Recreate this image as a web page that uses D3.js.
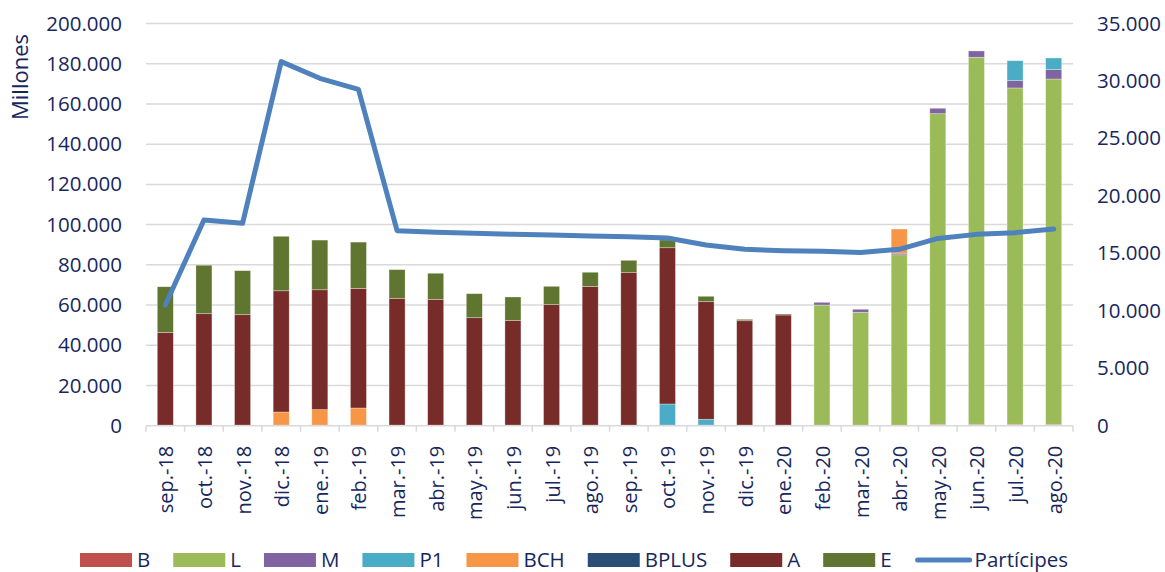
<!DOCTYPE html>
<html>
<head>
<meta charset="utf-8">
<script src="https://cdn.jsdelivr.net/npm/d3@7"></script>
<style>
  body { margin: 0; background: #fff; }
  text { font-family: "Open Sans", sans-serif; fill: #17275e; }
</style>
</head>
<body>
<div id="chart"></div>
<script>
// Months on the x axis
const months = ["sep.-18", "oct.-18", "nov.-18", "dic.-18", "ene.-19", "feb.-19", "mar.-19", "abr.-19",
  "may.-19", "jun.-19", "jul.-19", "ago.-19", "sep.-19", "oct.-19", "nov.-19", "dic.-19",
  "ene.-20", "feb.-20", "mar.-20", "abr.-20", "may.-20", "jun.-20", "jul.-20", "ago.-20"];

// Stacked series (millones)
const serB     = [300, 300, 300, 300, 300, 300, 300, 300, 300, 300, 300, 300, 300, 300, 300, 300, 300, 300, 300, 300, 700, 700, 700, 700];
const serL     = [0, 0, 0, 0, 0, 0, 0, 0, 0, 0, 0, 0, 0, 0, 0, 0, 0, 59700, 56100, 84700, 154450, 182500, 167250, 171700];
const serM     = [0, 0, 0, 0, 0, 0, 0, 0, 0, 0, 0, 0, 0, 0, 0, 0, 0, 1350, 1500, 800, 2700, 3150, 3620, 4650];
const serP1    = [0, 0, 0, 0, 0, 0, 0, 0, 0, 0, 0, 0, 0, 10500, 2900, 0, 0, 0, 0, 0, 0, 0, 9930, 5800];
const serBCH   = [0, 0, 0, 6500, 7700, 8500, 0, 0, 0, 0, 0, 0, 0, 0, 0, 0, 0, 0, 0, 12000, 0, 0, 0, 0];
const serBPLUS = [0, 0, 0, 0, 0, 0, 0, 0, 0, 0, 0, 0, 0, 0, 0, 0, 0, 0, 0, 0, 0, 0, 0, 0];
const serA     = [46100, 55400, 54900, 60300, 59600, 59500, 63050, 62550, 53400, 52100, 59900, 69000, 75800, 77700, 58470, 51900, 54750, 0, 0, 0, 0, 0, 0, 0];
const serE     = [22700, 24100, 21900, 27100, 24700, 23000, 14250, 12950, 11950, 11600, 9100, 7000, 6150, 3850, 2680, 700, 500, 0, 0, 0, 0, 0, 0, 0];

// Partícipes (right axis)
const participes = [10500, 17900, 17610, 31680, 30230, 29270, 16970, 16830, 16740, 16650, 16590, 16510,
  16450, 16330, 15720, 15350, 15230, 15180, 15080, 15350, 16300, 16650, 16800, 17110];

const seriesNames = ["B", "L", "M", "P1", "BCH", "BPLUS", "A", "E"];
const seriesValues = [serB, serL, serM, serP1, serBCH, serBPLUS, serA, serE];
const seriesColors = ["#C0504D", "#9BBB59", "#8064A2", "#4BACC6", "#F79646", "#2C4D75", "#772C2A", "#5F7530"];

const leftTicks = d3.range(0, 200001, 20000);
const rightTicks = d3.range(0, 35001, 5000);

const width = 1165, height = 572;
const margin = { top: 23.5, right: 92, bottom: 146.3, left: 146 };

const svg = d3.select("#chart").append("svg")
  .attr("width", width)
  .attr("height", height);

// Spanish number format: 200.000
const fmt = d3.formatLocale({ decimal: ",", thousands: ".", grouping: [3], currency: ["", ""] }).format(",");

const x = d3.scaleBand()
  .domain(months)
  .range([margin.left, width - margin.right])
  .paddingInner(0.585)
  .paddingOuter(0.2925);

const y = d3.scaleLinear().domain([0, 200000]).range([height - margin.bottom, margin.top]);
const y2 = d3.scaleLinear().domain([0, 35000]).range([height - margin.bottom, margin.top]);

// gridlines
svg.append("g")
  .selectAll("line")
  .data(leftTicks.slice(1))
  .enter().append("line")
  .attr("x1", margin.left)
  .attr("x2", width - margin.right)
  .attr("y1", d => y(d))
  .attr("y2", d => y(d))
  .attr("stroke", "#d9d9d9")
  .attr("stroke-width", 1.5);

// stacked bars
const table = months.map((m, i) => {
  const row = { month: m };
  seriesNames.forEach((s, k) => row[s] = seriesValues[k][i]);
  return row;
});
const stacked = d3.stack().keys(seriesNames)(table);

svg.append("g")
  .selectAll("g")
  .data(stacked)
  .enter().append("g")
  .attr("fill", (d, i) => seriesColors[i])
  .selectAll("rect")
  .data(d => d.filter(p => p[1] - p[0] > 0))
  .enter().append("rect")
  .attr("x", d => x(d.data.month))
  .attr("width", x.bandwidth())
  .attr("y", d => y(d[1]))
  .attr("height", d => y(d[0]) - y(d[1]))
  .attr("stroke", "#fff")
  .attr("stroke-opacity", 0.45)
  .attr("stroke-width", 0.7);

// bottom axis line + category boundary ticks
const x0 = margin.left, x1 = width - margin.right, yb = y(0);
svg.append("line")
  .attr("x1", x0).attr("x2", x1)
  .attr("y1", yb).attr("y2", yb)
  .attr("stroke", "#d9d9d9").attr("stroke-width", 1.5);

svg.append("g")
  .selectAll("line")
  .data(d3.range(months.length + 1))
  .enter().append("line")
  .attr("x1", i => x0 + i * x.step())
  .attr("x2", i => x0 + i * x.step())
  .attr("y1", yb)
  .attr("y2", yb + 6)
  .attr("stroke", "#d9d9d9").attr("stroke-width", 1.5);

// x axis labels (rotated)
const xAxis = svg.append("g")
  .attr("transform", `translate(0,${yb})`)
  .call(d3.axisBottom(x).tickSize(0));
xAxis.select(".domain").remove();
xAxis.selectAll("text")
  .attr("transform", "rotate(-90)")
  .attr("x", -20)
  .attr("y", 1)
  .attr("dy", "0.35em")
  .attr("text-anchor", "end")
  .style("font-size", "20px")
  .style("font-family", "'Open Sans', sans-serif")
  .attr("fill", "#17275e");

// left axis
const yAxis = svg.append("g")
  .attr("transform", `translate(${margin.left},0)`)
  .call(d3.axisLeft(y).tickValues(leftTicks).tickFormat(fmt).tickSize(0).tickPadding(24));
yAxis.select(".domain").remove();
yAxis.selectAll("text")
  .style("font-size", "20.5px")
  .style("font-family", "'Open Sans', sans-serif")
  .attr("fill", "#17275e");

// right axis
const y2Axis = svg.append("g")
  .attr("transform", `translate(${width - margin.right},0)`)
  .call(d3.axisRight(y2).tickValues(rightTicks).tickFormat(fmt).tickSize(0).tickPadding(24));
y2Axis.select(".domain").remove();
y2Axis.selectAll("text")
  .style("font-size", "20.5px")
  .style("font-family", "'Open Sans', sans-serif")
  .attr("fill", "#17275e");

// y axis title
svg.append("text")
  .attr("transform", "translate(28,77) rotate(-90)")
  .attr("text-anchor", "middle")
  .style("font-size", "22px")
  .text("Millones");

// Partícipes line
const line = d3.line()
  .x((d, i) => x(months[i]) + x.bandwidth() / 2)
  .y(d => y2(d));

svg.append("path")
  .datum(participes)
  .attr("d", line)
  .attr("fill", "none")
  .attr("stroke", "#4F81BD")
  .attr("stroke-width", 5)
  .attr("stroke-linejoin", "round")
  .attr("stroke-linecap", "round");

// legend
const legend = svg.append("g").attr("transform", "translate(80,560)");
let lx = 0;
seriesNames.forEach((name, i) => {
  legend.append("rect")
    .attr("x", lx).attr("y", -7)
    .attr("width", 52).attr("height", 14)
    .attr("fill", seriesColors[i]);
  const t = legend.append("text")
    .attr("x", lx + 57).attr("y", 7)
    .style("font-size", "20.5px")
    .text(name);
  lx += 57 + t.node().getComputedTextLength() + 23;
});
legend.append("line")
  .attr("x1", lx + 3).attr("x2", lx + 55)
  .attr("y1", 0).attr("y2", 0)
  .attr("stroke", "#4F81BD")
  .attr("stroke-width", 5)
  .attr("stroke-linecap", "round");
legend.append("text")
  .attr("x", lx + 60).attr("y", 7)
  .style("font-size", "20.5px")
  .text("Partícipes");
</script>
</body>
</html>
